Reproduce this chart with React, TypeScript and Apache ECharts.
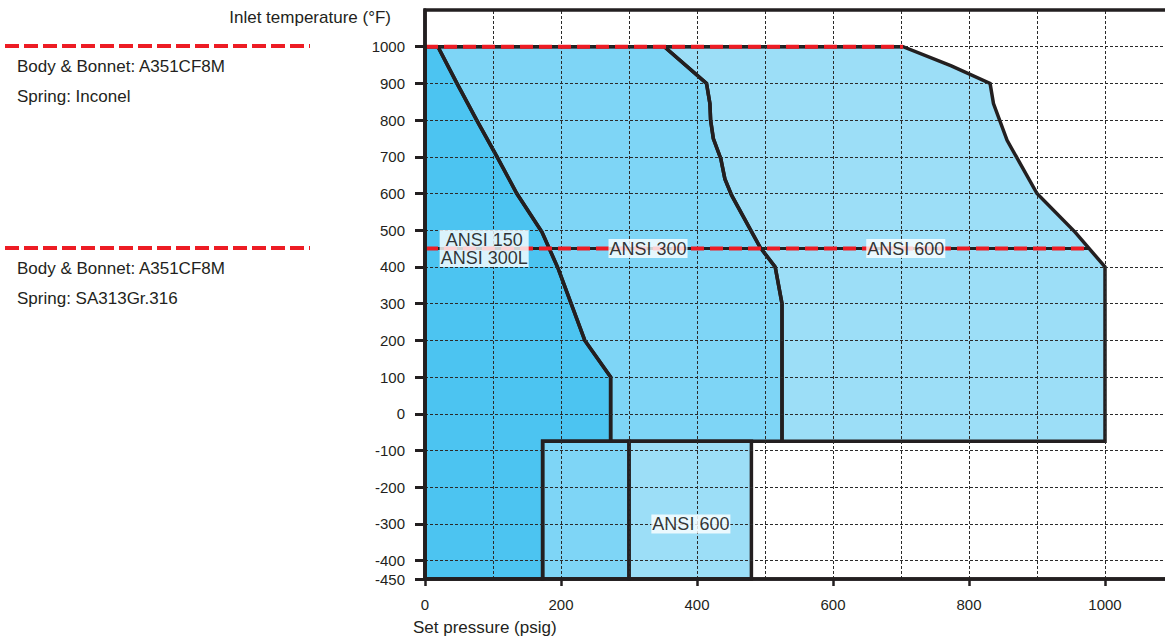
import React, { useEffect, useRef } from "react";
import * as echarts from "echarts";

// ---- data ----
const xTickValues = [0, 200, 400, 600, 800, 1000];
const yTickValues = [-450, -400, -300, -200, -100, 0, 100, 200, 300, 400, 500, 600, 700, 800, 900, 1000];
const xGridValues = [100, 200, 300, 400, 500, 600, 700, 800, 900, 1000];
const yGridValues = [-400, -300, -200, -100, 0, 100, 200, 300, 400, 500, 600, 700, 800, 900, 1000];

// boundary ANSI 150/300L | ANSI 300 (pressure psig, temperature °F)
const darkLine = [
  [19, 1000], [47, 900], [76, 800], [106, 700], [135, 600], [172, 495],
  [196, 395], [235, 200], [273, 100], [273, -75],
];
// boundary ANSI 300 | ANSI 600
const midLine = [
  [352, 1000], [414, 900], [419, 845], [420, 800], [424, 750], [435, 695],
  [441, 640], [451, 595], [493, 453], [515, 400], [525, 300], [525, -75],
];
// outer limit ANSI 600
const outerLine = [
  [703, 1000], [774, 948], [831, 900], [836, 845], [856, 745], [900, 600],
  [956, 495], [1000, 400], [1000, -75],
];
const topTemp = 1000;
const lowTemp = -75;
const bottomTemp = -450;
const lowSplits = [173, 300, 480];

const limitTemps = [1000, 450];
const limitEnds = [703, 975];

const zoneLabels = ["ANSI 150\nANSI 300L", "ANSI 300", "ANSI 600", "ANSI 600"];
const zoneLabelX = [87, 328, 707, 391];
const zoneLabelY = [450, 450, 450, -300];

const legendTexts = [
  ["Body & Bonnet: A351CF8M", "Spring: Inconel"],
  ["Body & Bonnet: A351CF8M", "Spring: SA313Gr.316"],
];

const DARK = "#4cc4f1";
const MED = "#7ed5f6";
const LIGHT = "#9cdef7";
const INK = "#231f20";
const RED = "#ed1c24";
const FONT = "Liberation Sans, Arial, sans-serif";

export default function App() {
  const ref = useRef<HTMLDivElement>(null);

  useEffect(() => {
    if (!ref.current) return;
    const chart = echarts.init(ref.current, undefined, { renderer: "svg" });

    const darkPoly = [
      [0, topTemp], ...darkLine,
      [lowSplits[0], lowTemp], [lowSplits[0], bottomTemp], [0, bottomTemp],
    ];
    const medUpper = [...darkLine, ...midLine.slice().reverse()];
    const medLower = [
      [lowSplits[0], lowTemp], [lowSplits[1], lowTemp],
      [lowSplits[1], bottomTemp], [lowSplits[0], bottomTemp],
    ];
    const lightUpper = [...midLine, ...outerLine.slice().reverse()];
    const lightLower = [
      [lowSplits[1], lowTemp], [lowSplits[2], lowTemp],
      [lowSplits[2], bottomTemp], [lowSplits[1], bottomTemp],
    ];
    const polys = [
      { pts: darkPoly, color: DARK },
      { pts: medUpper, color: MED },
      { pts: medLower, color: MED },
      { pts: lightUpper, color: LIGHT },
      { pts: lightLower, color: LIGHT },
    ];

    const polySeries = (stroke: boolean, z: number) => ({
      type: "custom",
      z,
      silent: true,
      clip: false,
      data: polys.map((p, i) => [p.pts[0][0], p.pts[0][1], i]),
      renderItem: (params: any, api: any) => {
        const p = polys[params.dataIndex];
        return {
          type: "polygon",
          shape: { points: p.pts.map((pt) => api.coord(pt)) },
          style: stroke
            ? { fill: "none", stroke: INK, lineWidth: 3.5, lineJoin: "miter" }
            : { fill: p.color, stroke: "none" },
        };
      },
    });

    const gridLineStyle = { color: "#2a2a2a", width: 1, type: [3, 2] };

    const legendGraphics: any[] = [];
    const legendY = [46, 248];
    legendTexts.forEach((lines, i) => {
      legendGraphics.push({
        type: "line",
        shape: { x1: 5, y1: legendY[i], x2: 310, y2: legendY[i] },
        style: { stroke: RED, lineWidth: 4, lineDash: [14, 5] },
      });
      lines.forEach((t, j) => {
        legendGraphics.push({
          type: "text",
          x: 17,
          y: legendY[i] + 20 + j * 30,
          style: {
            text: t,
            fill: INK,
            font: `17px ${FONT}`,
            verticalAlign: "middle",
          },
        });
      });
    });

    chart.setOption({
      animation: false,
      textStyle: { fontFamily: FONT },
      grid: {
        left: 425,
        top: 10,
        right: 27,
        bottom: 64,
        show: true,
        borderColor: INK,
        borderWidth: 3.5,
        z: 10,
      },
      xAxis: {
        type: "value",
        min: 0,
        max: 1100,
        interval: 100,
        z: 10,
        name: "Set pressure (psig)",
        nameLocation: "start",
        nameGap: 12,
        nameTextStyle: {
          fontSize: 17,
          color: INK,
          align: "left",
          verticalAlign: "top",
          padding: [40, 0, 0, 0],
        },
        axisLine: { show: true, onZero: false, lineStyle: { color: INK, width: 3.5 } },
        axisTick: {
          show: true,
          customValues: xTickValues,
          length: 7,
          lineStyle: { color: INK, width: 2.5 },
        },
        axisLabel: {
          customValues: xTickValues,
          fontSize: 15,
          color: INK,
          margin: 18,
          formatter: (v: number) => String(v),
        },
        splitLine: { show: false },
      },
      yAxis: {
        type: "value",
        min: -450,
        max: 1100,
        interval: 50,
        z: 10,
        name: "Inlet temperature (°F)",
        nameLocation: "end",
        nameGap: -7,
        nameTextStyle: {
          fontSize: 17,
          color: INK,
          align: "right",
          verticalAlign: "middle",
          padding: [0, 34, 0, 0],
        },
        axisLine: { show: true, onZero: false, lineStyle: { color: INK, width: 3.5 } },
        axisTick: {
          show: true,
          customValues: yTickValues,
          length: 10,
          lineStyle: { color: INK, width: 3 },
        },
        axisLabel: {
          customValues: yTickValues,
          fontSize: 15,
          color: INK,
          margin: 20,
          formatter: (v: number) => String(v),
        },
        splitLine: { show: false },
      },
      graphic: legendGraphics,
      series: [
        polySeries(false, 1),
        {
          type: "line",
          z: 2,
          silent: true,
          data: [],
          symbol: "none",
          markLine: {
            silent: true,
            symbol: "none",
            label: { show: false },
            lineStyle: gridLineStyle,
            data: [
              ...yGridValues.map((v) => ({ yAxis: v })),
              ...xGridValues.map((v) => ({ xAxis: v })),
            ],
          },
        },
        polySeries(true, 3),
        ...limitTemps.map((t, i) => ({
          type: "line",
          z: 4,
          silent: true,
          symbol: "none",
          data: [[0, t], [limitEnds[i], t]],
          lineStyle: { color: INK, width: 3 },
        })),
        ...limitTemps.map((t, i) => ({
          type: "line",
          z: 5,
          silent: true,
          symbol: "none",
          data: [[0, t], [limitEnds[i], t]],
          lineStyle: { color: RED, width: 4, type: [13, 6] },
        })),
        {
          type: "scatter",
          z: 6,
          silent: true,
          symbolSize: 0,
          data: zoneLabels.map((t, i) => ({ value: [zoneLabelX[i], zoneLabelY[i]], name: t })),
          label: {
            show: true,
            position: "inside",
            formatter: (p: any) => p.name,
            fontSize: 18,
            lineHeight: 18,
            color: "#000",
            align: "center",
            backgroundColor: "#fff",
            padding: [1, 1, 0, 1],
          },
        },
      ],
    });

    return () => chart.dispose();
  }, []);

  return (
    <div
      style={{
        position: "absolute",
        left: 0,
        top: 0,
        width: 1165,
        height: 643,
        overflow: "hidden",
        background: "#fff",
      }}
    >
      <div ref={ref} style={{ width: 1200, height: 643 }} />
    </div>
  );
}
